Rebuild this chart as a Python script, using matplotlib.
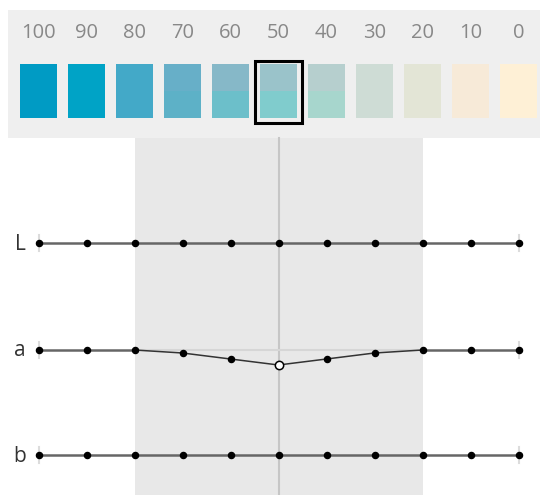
import numpy as np
import matplotlib
matplotlib.use('Agg')
from matplotlib import pyplot as plt
from matplotlib.patches import Rectangle

# swatch scale, 100 -> 0
steps = [100, 90, 80, 70, 60, 50, 40, 30, 20, 10, 0]
top_colors = ['#009bc4', '#00a3c6', '#43a9c8', '#67afc8', '#86b8c8', '#9ac3ca',
              '#b6cfce', '#cedcd5', '#e3e5d6', '#f7ead8', '#fef0d6']
bottom_colors = ['#009bc4', '#00a3c6', '#43a9c8', '#5db1c7', '#6cbfca', '#80cccd',
                 '#a7d6cd', '#cedcd5', '#e3e5d6', '#f7ead8', '#fef0d6']
selected = 50
range_lo, range_hi = 20, 80

channels = ['L', 'a', 'b']
# vertical offset of each node per channel (pixels, downward)
L_offset = [0, 0, 0, 0, 0, 0, 0, 0, 0, 0, 0]
a_offset = [0, 0, 0, 3, 9, 15, 9, 3, 0, 0, 0]
b_offset = [0, 0, 0, 0, 0, 0, 0, 0, 0, 0, 0]
offsets = [L_offset, a_offset, b_offset]
row_y = [243, 350, 455]

W, H = 540, 495
fig = plt.figure(figsize=(W / 100, H / 100), dpi=100)
ax = fig.add_axes([0, 0, 1, 1])
px = 4.8  # pixels per step unit
x0 = 100 + 38.5 / px
ax.set_xlim(x0, x0 - W / px)
ax.set_ylim(H, 0)
ax.axis('off')

def xw(pixels):
	return pixels / px

# top panel
ax.add_patch(Rectangle((x0 - xw(8), 10), -xw(W), 128, color='#efefef', lw=0, zorder=0))
# shaded range + center line
ax.add_patch(Rectangle((range_hi, 138), range_lo - range_hi, H - 138, color='#e8e8e8', lw=0, zorder=0))
ax.plot([selected, selected], [138, H], color='#c6c6c6', lw=1.5, zorder=1)

sw = xw(37)
for v, ct, cb in zip(steps, top_colors, bottom_colors):
	ax.text(v, 33, str(v), ha='center', va='center', fontsize=14.5, color='#888888',
			family='Open Sans')
	ax.add_patch(Rectangle((v + sw / 2, 64), -sw, 27, color=ct, lw=0, zorder=2))
	ax.add_patch(Rectangle((v + sw / 2, 91), -sw, 27, color=cb, lw=0, zorder=2))
	if v == selected:
		ax.add_patch(Rectangle((v + xw(24), 60.5), -xw(47), 62, fill=False,
							   ec='black', lw=2.2, zorder=3))

xs = np.array(steps)
for name, off, y in zip(channels, offsets, row_y):
	ys = y + np.array(off, dtype=float)
	ax.text(x0 - xw(20), y + 1, name, ha='center', va='center', fontsize=15,
			color='#333333', family='Open Sans')
	for ex in (steps[0], steps[-1]):
		ax.plot([ex, ex], [y - 8, y + 8], color='#dcdcdc', lw=1.5, zorder=1)
	if any(off):
		ax.plot([range_hi, range_lo], [y, y], color='#d6d6d6', lw=1.5, zorder=1)
	flat = np.array(off) == 0
	# thick gray for segments where both ends are flat
	for i in range(len(xs) - 1):
		if flat[i] and flat[i + 1]:
			ax.plot(xs[i:i + 2], ys[i:i + 2], color='#666666', lw=1.8, zorder=4,
					solid_capstyle='butt')
		else:
			ax.plot(xs[i:i + 2], ys[i:i + 2], color='#333333', lw=1.1, zorder=4)
	for v, yy in zip(xs, ys):
		if name == 'a' and v == selected:
			ax.plot(v, yy, 'o', ms=6, mfc='white', mec='black', mew=1.1, zorder=5)
		else:
			ax.plot(v, yy, 'o', ms=4.4, color='black', zorder=5)

fig.savefig('out.png', dpi=100)
